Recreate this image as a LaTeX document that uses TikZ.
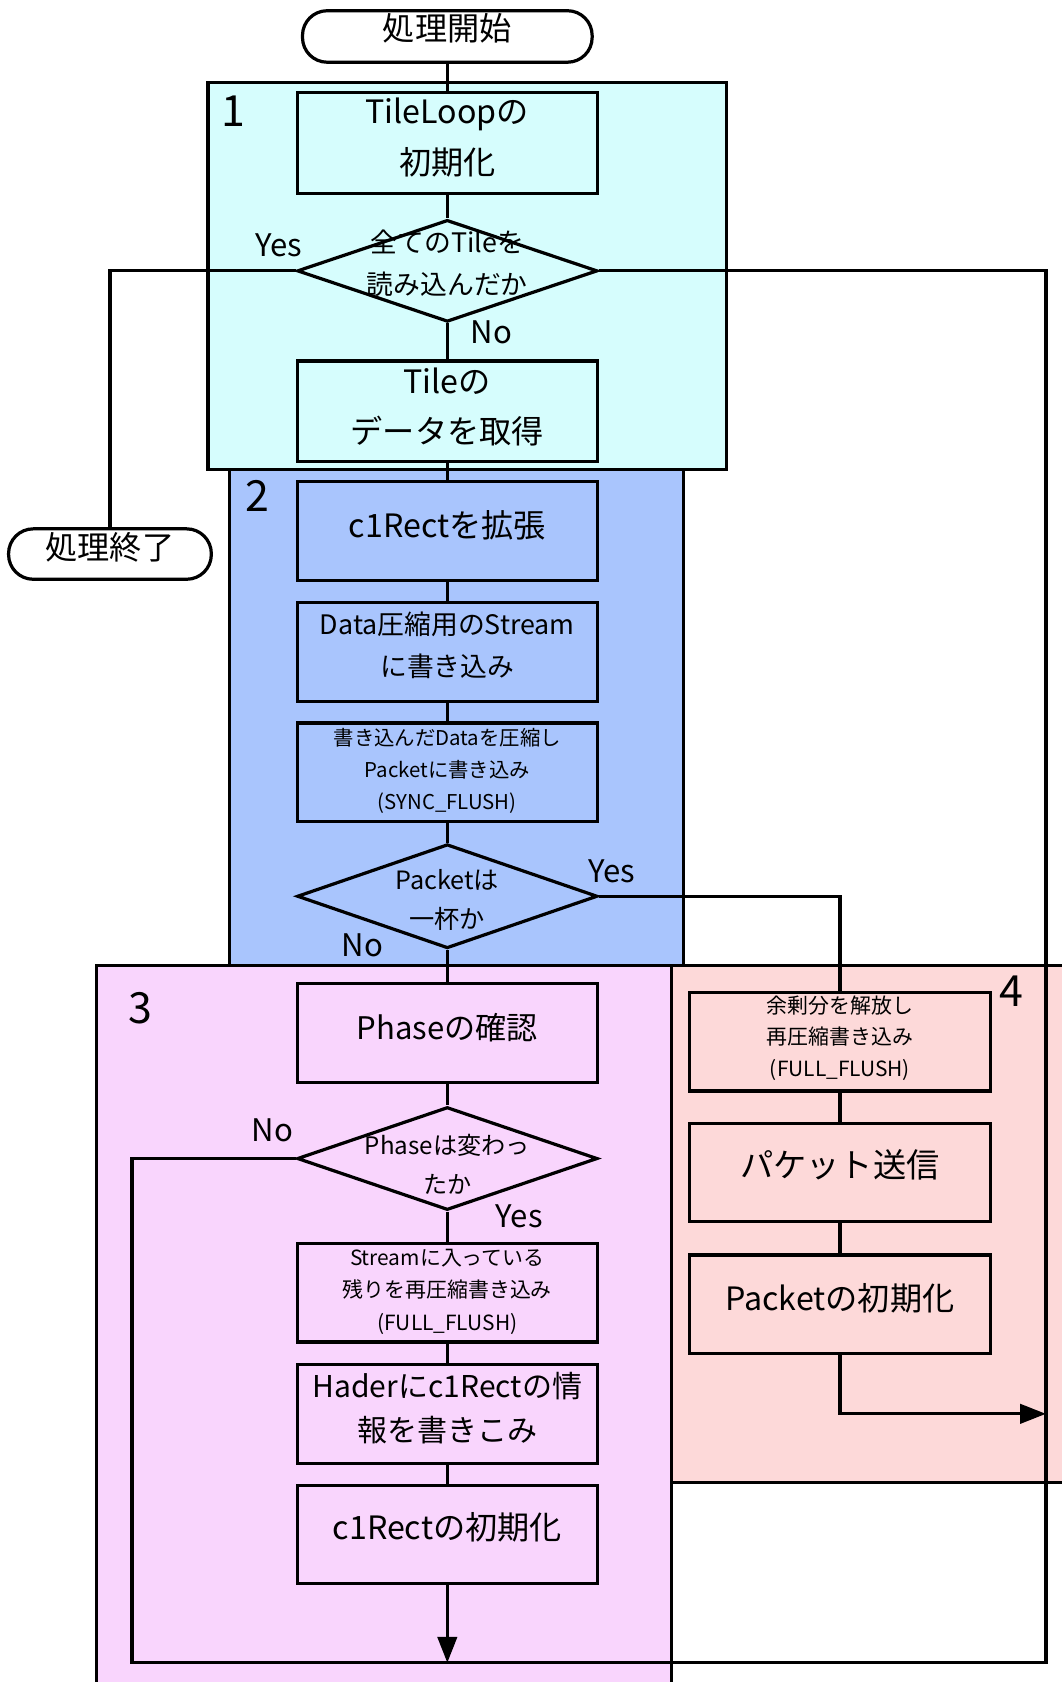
\documentclass[tikz,border=0pt]{standalone}
\usepackage{fontspec}
\setmainfont{Noto Sans CJK JP}
\usetikzlibrary{arrows.meta,shapes.geometric}
\definecolor{gA}{RGB}{214,253,253}
\definecolor{gB}{RGB}{169,197,253}
\definecolor{gC}{RGB}{249,213,253}
\definecolor{gD}{RGB}{253,217,217}
\newcommand\fz[2]{\fontsize{#1}{#2}\selectfont}
\newcommand\tb[2][4pt]{\raisebox{#1}[\height][\depth]{\begin{tabular}{@{}c@{}}#2\end{tabular}}}
\begin{document}
\begin{tikzpicture}[x=1pt,y=-1pt,line width=3pt,
 proc/.style={draw,line width=3pt,minimum width=280pt,minimum height=92pt,inner sep=0pt,fill=#1},
 dia/.style={draw,diamond,line width=3pt,minimum width=280pt,minimum height=96pt,inner sep=0pt,fill=#1},
 term/.style={draw,line width=3pt,fill=white,rounded corners=23pt,inner sep=0pt},
 lbl/.style={inner sep=0pt,font=\fz{29}{34}},
 num/.style={inner sep=0pt,font=\fz{40}{48}},
 txt/.style={inner sep=0pt},
 conn/.style={line width=3pt},
 arr/.style={line width=3pt,-{Triangle[length=24pt,width=18pt]}}
]
\useasboundingbox (0,0) rectangle (990,1568);
\clip (0,0) rectangle (990,1568);
% groups
\draw[fill=gC] (90,900) rectangle (626,1610);
\draw[fill=gD] (626,900) rectangle (1030,1382);
\draw[fill=gB] (214,438) rectangle (637,900);
\draw[fill=gA] (194,77) rectangle (677,438);
\node[num] (n1) at (218,104) {1};
\node[num] (n2) at (240,462) {2};
\node[num] (n3) at (131,940) {3};
\node[num] (n4) at (943,924) {4};
% terminals
\node[term,minimum width=270pt,minimum height=48pt,font=\fz{30}{36}] (start) at (417,34) {\tb[3pt]{処理開始}};
\node[term,minimum width=189pt,minimum height=47pt,font=\fz{30}{36}] (end) at (102.5,516.5) {\tb[2pt]{処理終了}};
% group 1
\node[proc=gA,font=\fz{30}{47}] (tl) at (417,133.5) {\tb[4pt]{TileLoopの\\初期化}};
\node[dia=gA,minimum height=95pt] (d1) at (417,252.5) {};
\node[txt,font=\fz{25}{39}] (d1t) at (417,247) {\tb[0pt]{全てのTileを\\読み込んだか}};
\node[proc=gA,font=\fz{30}{47}] (tile) at (417,383.5) {\tb[3pt]{Tileの\\データを取得}};
% group 2
\node[proc=gB,font=\fz{30}{36}] (c1ex) at (417,495) {\tb[1pt]{c1Rectを拡張}};
\node[proc=gB,font=\fz{25}{39}] (dstr) at (417,608) {\tb[5pt]{Data圧縮用のStream\\に書き込み}};
\node[proc=gB,font=\fz{19}{30}] (wcomp) at (417,720) {\tb[1pt]{書き込んだDataを圧縮し\\Packetに書き込み\\(SYNC\_FLUSH)}};
\node[dia=gB,minimum height=97pt] (d2) at (417,835.5) {};
\node[txt,font=\fz{23.5}{36}] (d2t) at (417,840) {\tb[0pt]{Packetは\\一杯か}};
% group 3
\node[proc=gC,font=\fz{29}{36}] (phase) at (417,963) {\tb[1pt]{Phaseの確認}};
\node[dia=gC] (d3) at (417,1080) {};
\node[txt,font=\fz{22.5}{37}] (d3t) at (417,1087) {\tb[0pt]{Phaseは変わっ\\たか}};
\node[proc=gC,font=\fz{19.5}{30}] (strm) at (417,1205) {\tb[1pt]{Streamに入っている\\残りを再圧縮書き込み\\(FULL\_FLUSH)}};
\node[proc=gC,font=\fz{28}{41}] (hader) at (417,1318) {\tb[3pt]{Haderにc1Rectの情\\報を書きこみ}};
\node[proc=gC,font=\fz{30}{36}] (c1init) at (417,1430.5) {\tb[3pt]{c1Rectの初期化}};
% group 4
\node[proc=gD,font=\fz{19.5}{29.5}] (surplus) at (783,971) {\tb[3pt]{余剰分を解放し\\再圧縮書き込み\\(FULL\_FLUSH)}};
\node[proc=gD,font=\fz{31}{36}] (send) at (783,1093) {\tb[3pt]{パケット送信}};
\node[proc=gD,font=\fz{30}{36}] (pkinit) at (783,1216) {\tb[2pt]{Packetの初期化}};
% labels
\node[lbl] (y1) at (260,229) {Yes};
\node[lbl] (no1) at (458,310) {No};
\node[lbl] (y2) at (570,812) {Yes};
\node[lbl] (no2) at (338,881) {No};
\node[lbl] (no3) at (254,1054) {No};
\node[lbl] (y3) at (484,1134) {Yes};
% coordinates
\coordinate (rb) at (975,1550);
\coordinate (lb) at (123,1550);
\coordinate (mB) at (417,1550);
\coordinate (pk) at (975,1318);
% connectors
\draw[conn] (start) -- (tl);
\draw[conn] (tl) -- (d1);
\draw[conn] (d1) -- (tile);
\draw[conn] (tile) -- (c1ex);
\draw[conn] (c1ex) -- (dstr);
\draw[conn] (dstr) -- (wcomp);
\draw[conn] (wcomp) -- (d2);
\draw[conn] (d2) -- (phase);
\draw[conn] (phase) -- (d3);
\draw[conn] (d3) -- (strm);
\draw[conn] (strm) -- (hader);
\draw[conn] (hader) -- (c1init);
\draw[conn] (surplus) -- (send);
\draw[conn] (send) -- (pkinit);
\draw[conn] (d1.west) -| (end.north);
\draw[conn] (d2.east) -| (surplus.north);
\draw[conn] (d3.west) -- (d3.west -| lb) -- (lb) -- (rb) -- (d1.east -| rb) -- (d1.east);
\draw[arr] (c1init.south) -- (mB);
\draw[arr] (pkinit.south) |- (pk);
\end{tikzpicture}
\end{document}
